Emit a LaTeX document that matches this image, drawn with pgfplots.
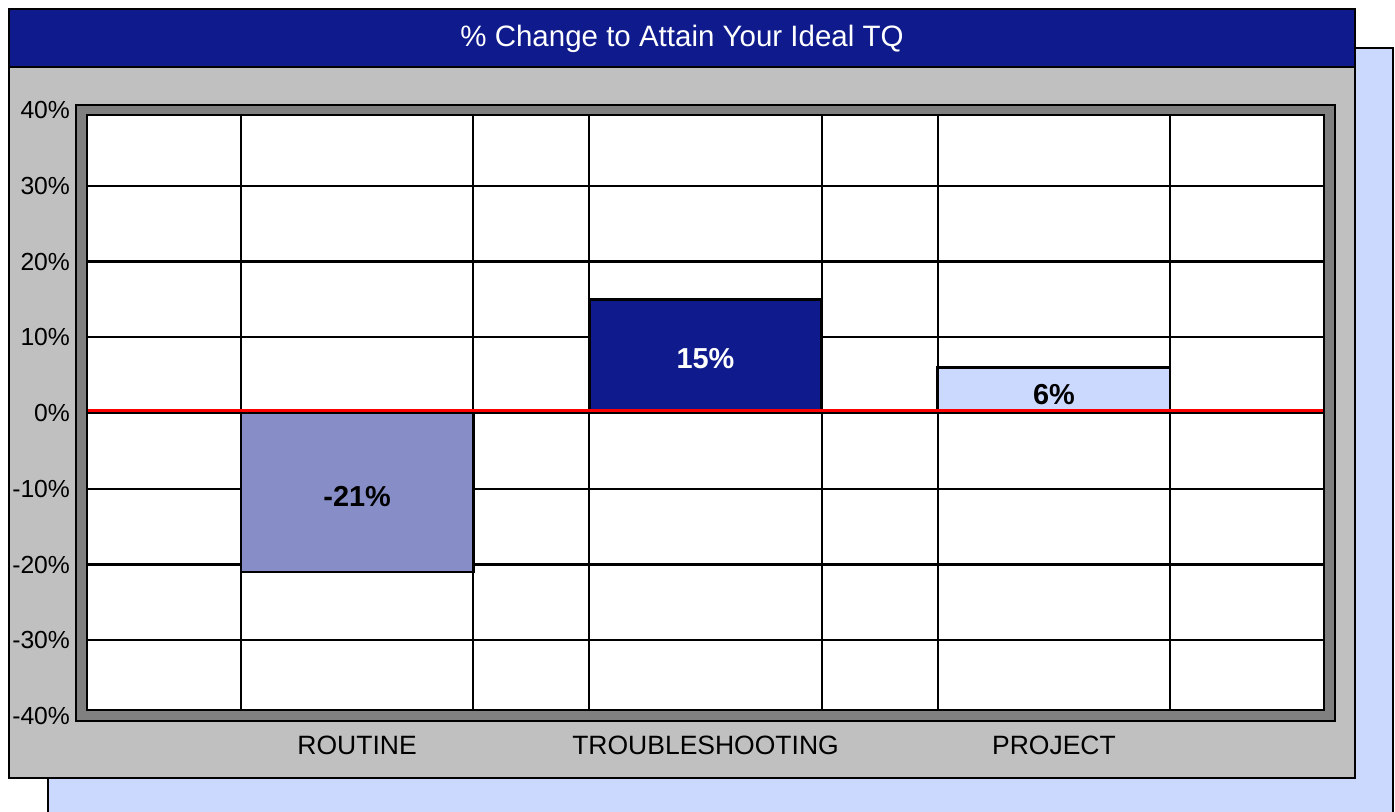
\documentclass[border=0pt]{standalone}
\usepackage{pgfplots}
\pgfplotsset{compat=1.18}
\usepackage{fontspec}
\setmainfont{Liberation Sans}
\definecolor{dblue}{RGB}{15,27,140}
\definecolor{lblue}{RGB}{204,217,255}
\definecolor{mblue}{RGB}{135,142,199}
\definecolor{pgray}{RGB}{192,192,192}
\definecolor{fgray}{RGB}{128,128,128}
\begin{document}
\begin{tikzpicture}
\begin{scope}[x=0.5bp,y=-0.5bp]
\useasboundingbox (0,0) rectangle (1395,811);
\fill[lblue] (48,48) rectangle (1393,830);
\draw[black,line width=1.25bp] (48,830) -- (48,48) -- (1393,48) -- (1393,830);
\filldraw[fill=pgray,draw=black,line width=1.25bp] (9,9) rectangle (1355,778);
\filldraw[fill=dblue,draw=black,line width=1.25bp] (9,9) rectangle (1355,67);
\node[text=white,font=\fontsize{14.8}{17}\selectfont] at (682,39) {\% Change to Attain Your Ideal TQ};
\fill[white] (81,110) rectangle (1330,716);
\coordinate (axorig) at (81,716);
\end{scope}
\begin{axis}[at={(axorig)}, anchor=south west, scale only axis,
  width=624.5bp, height=303bp,
  xmin=0.2075, xmax=3.7925, ymin=-40, ymax=40,
  axis line style={draw=none},
  major tick length=0,
  ytick={-40,-30,...,40},
  yticklabels={-40\%,-30\%,-20\%,-10\%,0\%,10\%,20\%,30\%,40\%},
  xtick={1,2,3}, xticklabels={ROUTINE,TROUBLESHOOTING,PROJECT},
  ymajorgrids, major grid style={black,line width=1.1bp},
  extra x ticks={0.6667,1.3333,1.6667,2.3333,2.6667,3.3333},
  extra x tick labels={},
  extra x tick style={grid=major, major grid style={black,line width=1.1bp}},
  xticklabel style={font=\fontsize{13.3}{15}\selectfont, yshift=-6.5bp},
  yticklabel style={font=\fontsize{12.4}{15}\selectfont, xshift=-2bp},
]
\addplot[ybar, bar width=0.6667, fill=mblue, draw=black, line width=1.4bp] coordinates {(1,-21)};
\addplot[ybar, bar width=0.6667, fill=dblue, draw=black, line width=1.4bp] coordinates {(2,15)};
\addplot[ybar, bar width=0.6667, fill=lblue, draw=black, line width=1.4bp] coordinates {(3,6)};
\addplot[red, line width=1.5bp] coordinates {(0.2075,0.32) (3.7925,0.32)};
\addplot[draw=none, mark=none, nodes near coords, point meta=explicit symbolic,
  nodes near coords style={anchor=center, text=black, font=\bfseries\fontsize{14.5}{17}\selectfont}]
  coordinates {(1,-11) [-21\%] (3,2.5) [6\%]};
\addplot[draw=none, mark=none, nodes near coords, point meta=explicit symbolic,
  nodes near coords style={anchor=center, text=white, font=\bfseries\fontsize{14.5}{17}\selectfont}]
  coordinates {(2,7.2) [15\%]};
\end{axis}
\begin{scope}[x=0.5bp,y=-0.5bp]
\fill[fgray,even odd rule] (76,105) rectangle (1335,721) (87,115) rectangle (1324,710);
\draw[line width=1.1bp] (76,105) rectangle (1335,721);
\draw[line width=1.1bp] (87,115) rectangle (1324,710);
\end{scope}
\end{tikzpicture}
\end{document}
